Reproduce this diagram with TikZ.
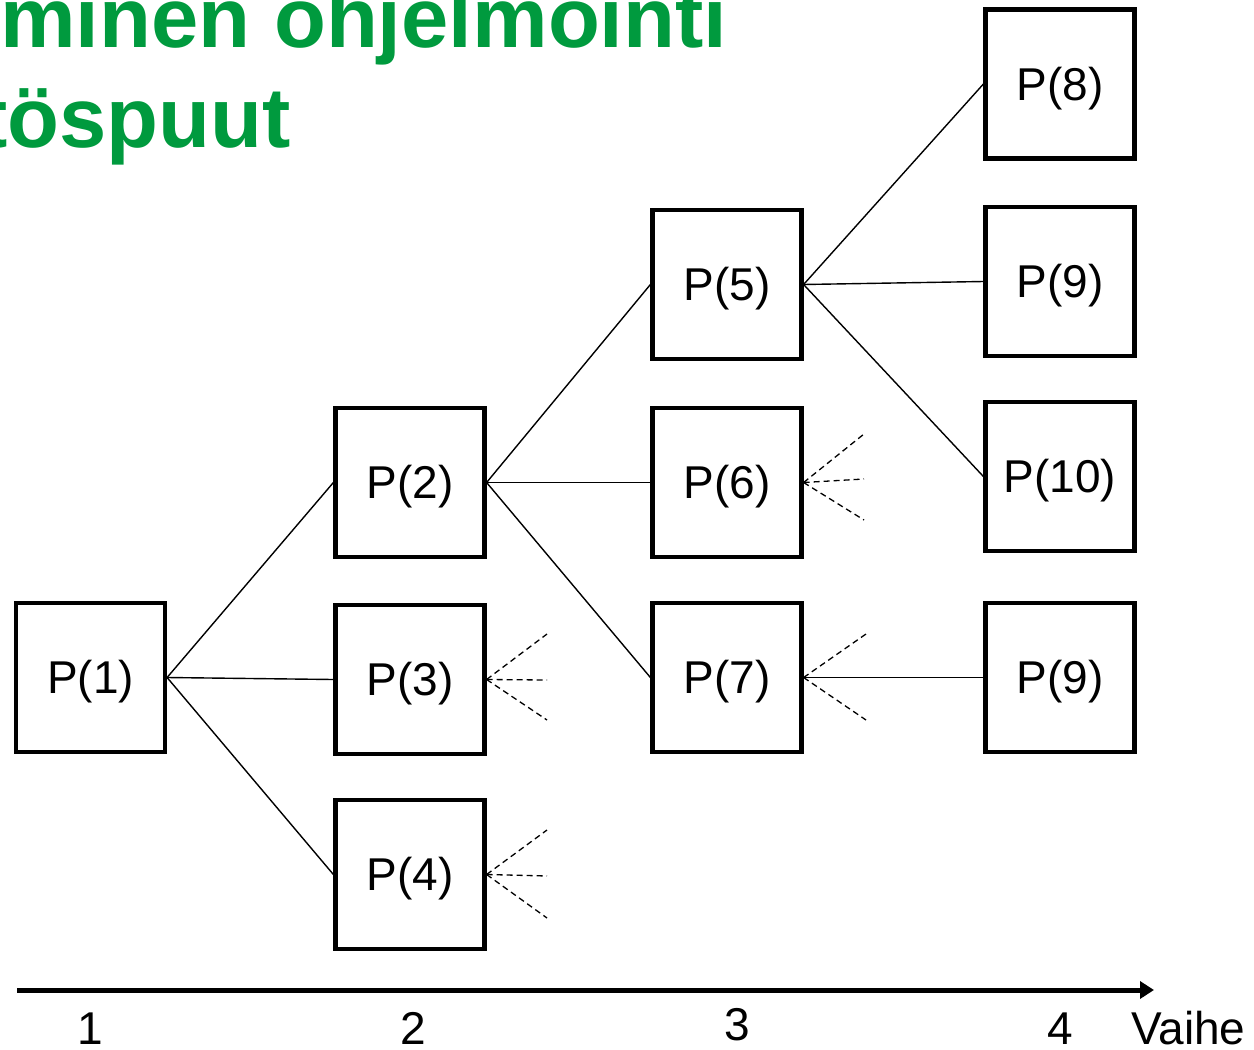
\documentclass[tikz,border=0pt]{standalone}
\usepackage{fontspec}
\setmainfont{Liberation Sans}
\usetikzlibrary{arrows.meta}
\definecolor{titlegreen}{RGB}{0,154,62}
\begin{document}
\begin{tikzpicture}[x=1pt,y=-1pt,
  stage/.style={draw=black,line width=4.2pt,minimum width=149pt,minimum height=149pt,
    inner sep=0pt,text height=42pt,text depth=10pt,font=\fontsize{46}{55}\selectfont},
  edge/.style={line width=1.4pt},
  open/.style={line width=1.3pt,dash pattern=on 6pt off 4pt},
  axislabel/.style={font=\fontsize{46}{55}\selectfont,anchor=base,inner sep=0pt},
  headline/.style={font=\fontsize{85}{100}\selectfont\bfseries,text=titlegreen,anchor=base west,inner sep=0pt}]
\useasboundingbox (0,0) rectangle (1254,1050);
\clip (0,0) rectangle (1254,1050);

% heading
\node[headline] (h1) at (0,47) {minen ohjelmointi};
\node[headline] (h2) at (-21,147) {töspuut};

% decision tree nodes
\node[stage] (p1)  at (90.5,677.5) {P(1)};
\node[stage] (p2)  at (410,482.5)  {P(2)};
\node[stage] (p3)  at (410,679.5)  {P(3)};
\node[stage] (p4)  at (410,874.5)  {P(4)};
\node[stage] (p5)  at (727,284.5)  {P(5)};
\node[stage] (p6)  at (727,482.5)  {P(6)};
\node[stage] (p7)  at (727,677.5)  {P(7)};
\node[stage] (p8)  at (1060,84)    {P(8)};
\node[stage] (p9a) at (1060,281.5) {P(9)};
\node[stage] (p10) at (1060,476.5) {P(10)};
\node[stage] (p9b) at (1060,677.5) {P(9)};

% branches
\draw[edge] (p1.east) -- (p2.west);
\draw[edge] (p1.east) -- (p3.west);
\draw[edge] (p1.east) -- (p4.west);
\draw[edge] (p2.east) -- (p5.west);
\draw[edge] (p2.east) -- (p6.west);
\draw[edge] (p2.east) -- (p7.west);
\draw[edge] (p5.east) -- (p8.west);
\draw[edge] (p5.east) -- (p9a.west);
\draw[edge] (p5.east) -- (p10.west);
\draw[edge] (p9b.west) -- (p7.east);

% unexplored branches
\coordinate (p3u) at (547,634);
\coordinate (p3m) at (547,680);
\coordinate (p3d) at (547,720);
\coordinate (p4u) at (547,830);
\coordinate (p4m) at (547,876);
\coordinate (p4d) at (547,918);
\coordinate (p6u) at (864,434);
\coordinate (p6m) at (864,479);
\coordinate (p6d) at (864,520);
\coordinate (p7u) at (866,634);
\coordinate (p7d) at (866,720);
\foreach \t in {p3u,p3m,p3d} \draw[open] (p3.east) -- (\t);
\foreach \t in {p4u,p4m,p4d} \draw[open] (p4.east) -- (\t);
\foreach \t in {p6u,p6m,p6d} \draw[open] (p6.east) -- (\t);
\foreach \t in {p7u,p7d} \draw[open] (p7.east) -- (\t);

% stage axis
\coordinate (axs) at (17,990);
\coordinate (axe) at (1154,990);
\draw[line width=5pt,-{Triangle[length=14pt,width=17pt]}] (axs) -- (axe);
\node[axislabel] (s1) at (90,1044) {1};
\node[axislabel] (s2) at (413,1044) {2};
\node[axislabel] (s3) at (737,1040) {3};
\node[axislabel] (s4) at (1060,1044) {4};
\node[axislabel,anchor=base west] (vh) at (1131,1044) {Vaihe};
\end{tikzpicture}
\end{document}
